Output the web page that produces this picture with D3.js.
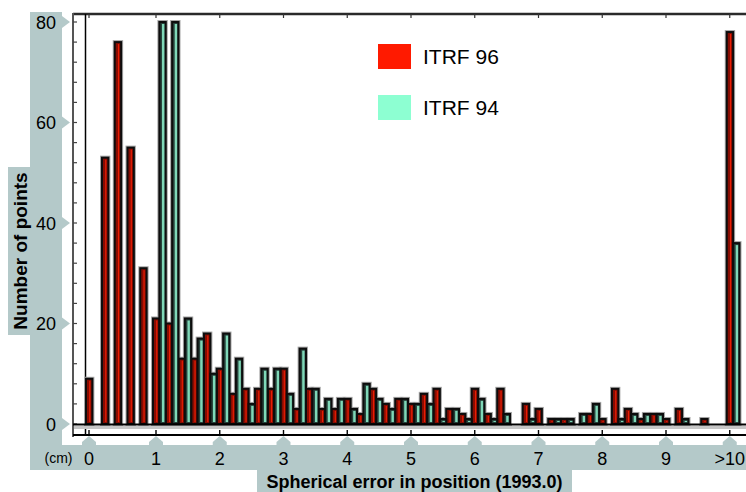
<!DOCTYPE html>
<html>
<head>
<meta charset="utf-8">
<script src="https://d3js.org/d3.v7.min.js"></script>
<style>
  body { margin: 0; background: #fff; }
  svg { display: block; font-family: "Liberation Sans", Arial, sans-serif; }
</style>
</head>
<body>
<script>
// spherical error bins in cm (0.2 cm wide), the last one holds everything above 10 cm
const bins = [0, 0.2, 0.4, 0.6, 0.8, 1.0, 1.2, 1.4, 1.6, 1.8,
              2.0, 2.2, 2.4, 2.6, 2.8, 3.0, 3.2, 3.4, 3.6, 3.8,
              4.0, 4.2, 4.4, 4.6, 4.8, 5.0, 5.2, 5.4, 5.6, 5.8,
              6.0, 6.2, 6.4, 6.6, 6.8, 7.0, 7.2, 7.4, 7.6, 7.8,
              8.0, 8.2, 8.4, 8.6, 8.8, 9.0, 9.2, 9.4, 9.6, 9.8, 10];
// number of points per bin
const itrf96 = [9, 53, 76, 55, 31, 21, 20, 13, 13, 18,
                11, 6, 7, 7, 7, 11, 3, 7, 3, 3,
                5, 2, 7, 4, 5, 4, 6, 7, 3, 2,
                7, 2, 7, 0, 4, 3, 1, 1, 0, 2,
                1, 7, 3, 1, 2, 1, 3, 0, 1, 0, 78];
const itrf94 = [0, 0, 0, 0, 0, 80, 80, 21, 17, 10,
                18, 13, 4, 11, 11, 6, 15, 7, 5, 5,
                3, 8, 5, 3, 5, 4, 4, 1, 3, 1,
                5, 1, 2, 0, 1, 0, 1, 1, 2, 4,
                0, 1, 2, 2, 2, 0, 1, 0, 0, 0, 36];
const seriesNames = ["ITRF 96", "ITRF 94"];
const yTicks = [0, 20, 40, 60, 80];
const xTicks = [0, 1, 2, 3, 4, 5, 6, 7, 8, 9, 10];
const xTickLabels = ["0", "1", "2", "3", "4", "5", "6", "7", "8", "9", ">10"];

const W = 746, H = 492;
const panel = "#b4c9c9";

const svg = d3.select("body").append("svg")
    .attr("width", W)
    .attr("height", H);

// first bin is drawn a little wider, as in the original
const x = d3.scaleLinear().domain([0, 0.2, 10]).range([89, 105, 729.75]);
const y = d3.scaleLinear().domain([0, 80]).range([424, 22]);
const barW = (x(1.2) - x(1.0)) / 2;

//--- grey-blue label panels
svg.append("rect").attr("x", 30).attr("y", 12).attr("width", 32).attr("height", 458).attr("fill", panel);
svg.append("rect").attr("x", 8).attr("y", 167).attr("width", 23).attr("height", 168).attr("fill", panel);
svg.append("rect").attr("x", 30).attr("y", 445).attr("width", W - 30).attr("height", 25).attr("fill", panel);
svg.append("rect").attr("x", 257).attr("y", 469).attr("width", 315).attr("height", 23).attr("fill", panel);

// pointers from the panels to the axis ticks
svg.selectAll(".ypointer").data(yTicks).enter().append("path")
    .attr("class", "ypointer")
    .attr("fill", panel)
    .attr("d", d => "M62," + (y(d) - 6) + "L70," + y(d) + "L62," + (y(d) + 6) + "Z");
svg.selectAll(".xpointer").data(xTicks).enter().append("path")
    .attr("class", "xpointer")
    .attr("fill", panel)
    .attr("d", d => {
        const c = x(d);
        return "M" + (c - 7) + ",446L" + (c - 7) + ",442L" + c + ",436L" + (c + 7) + ",442L" + (c + 7) + ",446Z";
    });

//--- frame
svg.append("line").attr("x1", 73).attr("x2", W).attr("y1", 14).attr("y2", 14)
    .attr("stroke", "#2a2a2a").attr("stroke-width", 2.5);
svg.append("line").attr("x1", 73).attr("x2", 73).attr("y1", 13).attr("y2", 437)
    .attr("stroke", "#555").attr("stroke-width", 2);
svg.append("line").attr("x1", x(0) - 3.5).attr("x2", x(0) - 3.5).attr("y1", 14).attr("y2", 435)
    .attr("stroke", "#000").attr("stroke-width", 1.5);

// small ticks on the left line
svg.selectAll(".ytick").data(d3.range(0, 81, 4)).enter().append("line")
    .attr("class", "ytick")
    .attr("x1", 73).attr("x2", 77)
    .attr("y1", d => y(d)).attr("y2", d => y(d))
    .attr("stroke", "#444").attr("stroke-width", 1.2);

// ticks on the top line
svg.selectAll(".ttick").data(xTicks).enter().append("line")
    .attr("class", "ttick")
    .attr("x1", d => x(d)).attr("x2", d => x(d))
    .attr("y1", 14).attr("y2", 18)
    .attr("stroke", "#333").attr("stroke-width", 1.2);

//--- bars
const rows = bins.map((b, i) => ({ bin: b, a: itrf96[i], b94: itrf94[i] }));
const g = svg.append("g");

// light grey halo round every bar
function drawHalo(key, offset) {
    const d = rows.filter(r => r[key] > 0);
    g.selectAll(".halo-" + key).data(d).enter().append("rect")
        .attr("class", "halo-" + key)
        .attr("x", r => x(r.bin) - 3 + offset)
        .attr("y", r => y(r[key]))
        .attr("width", barW)
        .attr("height", r => y(0) - y(r[key]))
        .attr("fill", "none")
        .attr("stroke", "#a6a6a6")
        .attr("stroke-width", 4);
}
function drawBodies(key, offset, fill, stripe, stripeW) {
    const d = rows.filter(r => r[key] > 0);
    g.selectAll(".bar-" + key).data(d).enter().append("rect")
        .attr("class", "bar-" + key)
        .attr("x", r => x(r.bin) - 3 + offset)
        .attr("y", r => y(r[key]))
        .attr("width", barW)
        .attr("height", r => y(0) - y(r[key]))
        .attr("fill", fill)
        .attr("stroke", "#0d0d0d")
        .attr("stroke-width", 2);
    g.selectAll(".stripe-" + key).data(d).enter().append("rect")
        .attr("class", "stripe-" + key)
        .attr("x", r => x(r.bin) - 3 + offset + barW / 2 - stripeW / 2 + 0.6)
        .attr("y", r => y(r[key]) + 2)
        .attr("width", stripeW)
        .attr("height", r => Math.max(0, y(0) - y(r[key]) - 4))
        .attr("fill", stripe);
}
drawHalo("a", 0);
drawHalo("b94", barW);
drawBodies("a", 0, "#860c02", "#e81e04", 1.2);
drawBodies("b94", barW, "#27403a", "#7fd8b8", 2.4);

// baseline and lower axis line
svg.append("line").attr("x1", 73).attr("x2", W).attr("y1", 424.5).attr("y2", 424.5)
    .attr("stroke", "#000").attr("stroke-width", 2);
svg.append("rect").attr("x", 74).attr("y", 426).attr("width", W - 74).attr("height", 3).attr("fill", "#c6c6c6");
svg.append("line").attr("x1", 73).attr("x2", W).attr("y1", 435).attr("y2", 435)
    .attr("stroke", "#000").attr("stroke-width", 2);
svg.selectAll(".btick").data(xTicks).enter().append("line")
    .attr("class", "btick")
    .attr("x1", d => x(d)).attr("x2", d => x(d))
    .attr("y1", 430).attr("y2", 435)
    .attr("stroke", "#000").attr("stroke-width", 1.4);

//--- labels
svg.selectAll(".ylab").data(yTicks).enter().append("text")
    .attr("class", "ylab")
    .attr("x", 56)
    .attr("y", d => y(d) + 6.5)
    .attr("text-anchor", "end")
    .attr("font-size", 18)
    .text(d => d);

svg.selectAll(".xlab").data(xTicks).enter().append("text")
    .attr("class", "xlab")
    .attr("x", d => x(d))
    .attr("y", 464.5)
    .attr("text-anchor", "middle")
    .attr("font-size", 18)
    .text((d, i) => xTickLabels[i]);

svg.append("text").attr("x", 58.5).attr("y", 463)
    .attr("text-anchor", "middle").attr("font-size", 14)
    .text("(cm)");

svg.append("text").attr("x", 414.5).attr("y", 488)
    .attr("text-anchor", "middle").attr("font-size", 18).attr("font-weight", "bold")
    .text("Spherical error in position (1993.0)");

svg.append("text")
    .attr("transform", "translate(26.5,251) rotate(-90)")
    .attr("text-anchor", "middle").attr("font-size", 19).attr("font-weight", "bold")
    .text("Number of points");

//--- legend
const legendColors = ["#ff1a00", "#8dffd2"];
const lg = svg.selectAll(".legend").data(seriesNames).enter().append("g")
    .attr("class", "legend")
    .attr("transform", (d, i) => "translate(378," + (44 + i * 51) + ")");
lg.append("rect").attr("width", 33).attr("height", 25).attr("fill", (d, i) => legendColors[i]);
lg.append("text").attr("x", 45).attr("y", 20).attr("font-size", 21).text(d => d);
</script>
</body>
</html>
